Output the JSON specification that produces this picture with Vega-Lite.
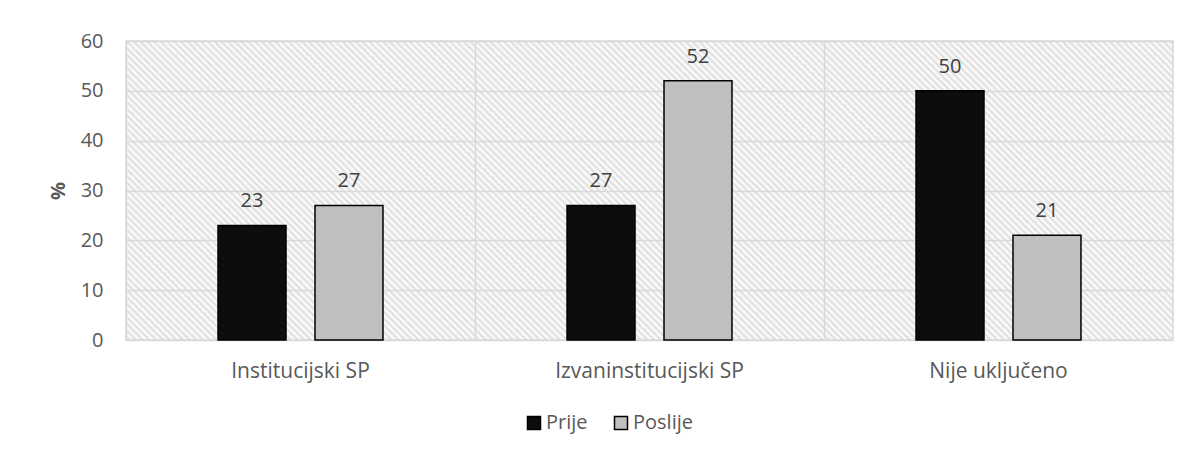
{
"$schema":"https://vega.github.io/schema/vega-lite/v6.json",
"width":1047,"height":299,
"autosize":{"type":"none"},
"padding":{"left":126,"top":41,"right":16,"bottom":114},
"background":"#ffffff",
"config":{"font":"Open Sans","axis":{"labelFont":"Open Sans","titleFont":"Open Sans"},"legend":{"labelFont":"Open Sans"}},
"view":{"stroke":"#d9d9d9","strokeWidth":1.5,"fill":{"gradient":"linear","x1":0,"y1":1,"x2":1.18866,"y2":0.66054,"stops":[
{"offset":0,"color":"#fff"},{"offset":0.0025,"color":"#ddd"},{"offset":0.005,"color":"#fff"},{"offset":0.0075,"color":"#ddd"},
{"offset":0.01,"color":"#fff"},{"offset":0.0125,"color":"#ddd"},{"offset":0.015,"color":"#fff"},{"offset":0.0175,"color":"#ddd"},
{"offset":0.02,"color":"#fff"},{"offset":0.0225,"color":"#ddd"},{"offset":0.025,"color":"#fff"},{"offset":0.0275,"color":"#ddd"},
{"offset":0.03,"color":"#fff"},{"offset":0.0325,"color":"#ddd"},{"offset":0.035,"color":"#fff"},{"offset":0.0375,"color":"#ddd"},
{"offset":0.04,"color":"#fff"},{"offset":0.0425,"color":"#ddd"},{"offset":0.045,"color":"#fff"},{"offset":0.0475,"color":"#ddd"},
{"offset":0.05,"color":"#fff"},{"offset":0.0525,"color":"#ddd"},{"offset":0.055,"color":"#fff"},{"offset":0.0575,"color":"#ddd"},
{"offset":0.06,"color":"#fff"},{"offset":0.0625,"color":"#ddd"},{"offset":0.065,"color":"#fff"},{"offset":0.0675,"color":"#ddd"},
{"offset":0.07,"color":"#fff"},{"offset":0.0725,"color":"#ddd"},{"offset":0.075,"color":"#fff"},{"offset":0.0775,"color":"#ddd"},
{"offset":0.08,"color":"#fff"},{"offset":0.0825,"color":"#ddd"},{"offset":0.085,"color":"#fff"},{"offset":0.0875,"color":"#ddd"},
{"offset":0.09,"color":"#fff"},{"offset":0.0925,"color":"#ddd"},{"offset":0.095,"color":"#fff"},{"offset":0.0975,"color":"#ddd"},
{"offset":0.1,"color":"#fff"},{"offset":0.1025,"color":"#ddd"},{"offset":0.105,"color":"#fff"},{"offset":0.1075,"color":"#ddd"},
{"offset":0.11,"color":"#fff"},{"offset":0.1125,"color":"#ddd"},{"offset":0.115,"color":"#fff"},{"offset":0.1175,"color":"#ddd"},
{"offset":0.12,"color":"#fff"},{"offset":0.1225,"color":"#ddd"},{"offset":0.125,"color":"#fff"},{"offset":0.1275,"color":"#ddd"},
{"offset":0.13,"color":"#fff"},{"offset":0.1325,"color":"#ddd"},{"offset":0.135,"color":"#fff"},{"offset":0.1375,"color":"#ddd"},
{"offset":0.14,"color":"#fff"},{"offset":0.1425,"color":"#ddd"},{"offset":0.145,"color":"#fff"},{"offset":0.1475,"color":"#ddd"},
{"offset":0.15,"color":"#fff"},{"offset":0.1525,"color":"#ddd"},{"offset":0.155,"color":"#fff"},{"offset":0.1575,"color":"#ddd"},
{"offset":0.16,"color":"#fff"},{"offset":0.1625,"color":"#ddd"},{"offset":0.165,"color":"#fff"},{"offset":0.1675,"color":"#ddd"},
{"offset":0.17,"color":"#fff"},{"offset":0.1725,"color":"#ddd"},{"offset":0.175,"color":"#fff"},{"offset":0.1775,"color":"#ddd"},
{"offset":0.18,"color":"#fff"},{"offset":0.1825,"color":"#ddd"},{"offset":0.185,"color":"#fff"},{"offset":0.1875,"color":"#ddd"},
{"offset":0.19,"color":"#fff"},{"offset":0.1925,"color":"#ddd"},{"offset":0.195,"color":"#fff"},{"offset":0.1975,"color":"#ddd"},
{"offset":0.2,"color":"#fff"},{"offset":0.2025,"color":"#ddd"},{"offset":0.205,"color":"#fff"},{"offset":0.2075,"color":"#ddd"},
{"offset":0.21,"color":"#fff"},{"offset":0.2125,"color":"#ddd"},{"offset":0.215,"color":"#fff"},{"offset":0.2175,"color":"#ddd"},
{"offset":0.22,"color":"#fff"},{"offset":0.2225,"color":"#ddd"},{"offset":0.225,"color":"#fff"},{"offset":0.2275,"color":"#ddd"},
{"offset":0.23,"color":"#fff"},{"offset":0.2325,"color":"#ddd"},{"offset":0.235,"color":"#fff"},{"offset":0.2375,"color":"#ddd"},
{"offset":0.24,"color":"#fff"},{"offset":0.2425,"color":"#ddd"},{"offset":0.245,"color":"#fff"},{"offset":0.2475,"color":"#ddd"},
{"offset":0.25,"color":"#fff"},{"offset":0.2525,"color":"#ddd"},{"offset":0.255,"color":"#fff"},{"offset":0.2575,"color":"#ddd"},
{"offset":0.26,"color":"#fff"},{"offset":0.2625,"color":"#ddd"},{"offset":0.265,"color":"#fff"},{"offset":0.2675,"color":"#ddd"},
{"offset":0.27,"color":"#fff"},{"offset":0.2725,"color":"#ddd"},{"offset":0.275,"color":"#fff"},{"offset":0.2775,"color":"#ddd"},
{"offset":0.28,"color":"#fff"},{"offset":0.2825,"color":"#ddd"},{"offset":0.285,"color":"#fff"},{"offset":0.2875,"color":"#ddd"},
{"offset":0.29,"color":"#fff"},{"offset":0.2925,"color":"#ddd"},{"offset":0.295,"color":"#fff"},{"offset":0.2975,"color":"#ddd"},
{"offset":0.3,"color":"#fff"},{"offset":0.3025,"color":"#ddd"},{"offset":0.305,"color":"#fff"},{"offset":0.3075,"color":"#ddd"},
{"offset":0.31,"color":"#fff"},{"offset":0.3125,"color":"#ddd"},{"offset":0.315,"color":"#fff"},{"offset":0.3175,"color":"#ddd"},
{"offset":0.32,"color":"#fff"},{"offset":0.3225,"color":"#ddd"},{"offset":0.325,"color":"#fff"},{"offset":0.3275,"color":"#ddd"},
{"offset":0.33,"color":"#fff"},{"offset":0.3325,"color":"#ddd"},{"offset":0.335,"color":"#fff"},{"offset":0.3375,"color":"#ddd"},
{"offset":0.34,"color":"#fff"},{"offset":0.3425,"color":"#ddd"},{"offset":0.345,"color":"#fff"},{"offset":0.3475,"color":"#ddd"},
{"offset":0.35,"color":"#fff"},{"offset":0.3525,"color":"#ddd"},{"offset":0.355,"color":"#fff"},{"offset":0.3575,"color":"#ddd"},
{"offset":0.36,"color":"#fff"},{"offset":0.3625,"color":"#ddd"},{"offset":0.365,"color":"#fff"},{"offset":0.3675,"color":"#ddd"},
{"offset":0.37,"color":"#fff"},{"offset":0.3725,"color":"#ddd"},{"offset":0.375,"color":"#fff"},{"offset":0.3775,"color":"#ddd"},
{"offset":0.38,"color":"#fff"},{"offset":0.3825,"color":"#ddd"},{"offset":0.385,"color":"#fff"},{"offset":0.3875,"color":"#ddd"},
{"offset":0.39,"color":"#fff"},{"offset":0.3925,"color":"#ddd"},{"offset":0.395,"color":"#fff"},{"offset":0.3975,"color":"#ddd"},
{"offset":0.4,"color":"#fff"},{"offset":0.4025,"color":"#ddd"},{"offset":0.405,"color":"#fff"},{"offset":0.4075,"color":"#ddd"},
{"offset":0.41,"color":"#fff"},{"offset":0.4125,"color":"#ddd"},{"offset":0.415,"color":"#fff"},{"offset":0.4175,"color":"#ddd"},
{"offset":0.42,"color":"#fff"},{"offset":0.4225,"color":"#ddd"},{"offset":0.425,"color":"#fff"},{"offset":0.4275,"color":"#ddd"},
{"offset":0.43,"color":"#fff"},{"offset":0.4325,"color":"#ddd"},{"offset":0.435,"color":"#fff"},{"offset":0.4375,"color":"#ddd"},
{"offset":0.44,"color":"#fff"},{"offset":0.4425,"color":"#ddd"},{"offset":0.445,"color":"#fff"},{"offset":0.4475,"color":"#ddd"},
{"offset":0.45,"color":"#fff"},{"offset":0.4525,"color":"#ddd"},{"offset":0.455,"color":"#fff"},{"offset":0.4575,"color":"#ddd"},
{"offset":0.46,"color":"#fff"},{"offset":0.4625,"color":"#ddd"},{"offset":0.465,"color":"#fff"},{"offset":0.4675,"color":"#ddd"},
{"offset":0.47,"color":"#fff"},{"offset":0.4725,"color":"#ddd"},{"offset":0.475,"color":"#fff"},{"offset":0.4775,"color":"#ddd"},
{"offset":0.48,"color":"#fff"},{"offset":0.4825,"color":"#ddd"},{"offset":0.485,"color":"#fff"},{"offset":0.4875,"color":"#ddd"},
{"offset":0.49,"color":"#fff"},{"offset":0.4925,"color":"#ddd"},{"offset":0.495,"color":"#fff"},{"offset":0.4975,"color":"#ddd"},
{"offset":0.5,"color":"#fff"},{"offset":0.5025,"color":"#ddd"},{"offset":0.505,"color":"#fff"},{"offset":0.5075,"color":"#ddd"},
{"offset":0.51,"color":"#fff"},{"offset":0.5125,"color":"#ddd"},{"offset":0.515,"color":"#fff"},{"offset":0.5175,"color":"#ddd"},
{"offset":0.52,"color":"#fff"},{"offset":0.5225,"color":"#ddd"},{"offset":0.525,"color":"#fff"},{"offset":0.5275,"color":"#ddd"},
{"offset":0.53,"color":"#fff"},{"offset":0.5325,"color":"#ddd"},{"offset":0.535,"color":"#fff"},{"offset":0.5375,"color":"#ddd"},
{"offset":0.54,"color":"#fff"},{"offset":0.5425,"color":"#ddd"},{"offset":0.545,"color":"#fff"},{"offset":0.5475,"color":"#ddd"},
{"offset":0.55,"color":"#fff"},{"offset":0.5525,"color":"#ddd"},{"offset":0.555,"color":"#fff"},{"offset":0.5575,"color":"#ddd"},
{"offset":0.56,"color":"#fff"},{"offset":0.5625,"color":"#ddd"},{"offset":0.565,"color":"#fff"},{"offset":0.5675,"color":"#ddd"},
{"offset":0.57,"color":"#fff"},{"offset":0.5725,"color":"#ddd"},{"offset":0.575,"color":"#fff"},{"offset":0.5775,"color":"#ddd"},
{"offset":0.58,"color":"#fff"},{"offset":0.5825,"color":"#ddd"},{"offset":0.585,"color":"#fff"},{"offset":0.5875,"color":"#ddd"},
{"offset":0.59,"color":"#fff"},{"offset":0.5925,"color":"#ddd"},{"offset":0.595,"color":"#fff"},{"offset":0.5975,"color":"#ddd"},
{"offset":0.6,"color":"#fff"},{"offset":0.6025,"color":"#ddd"},{"offset":0.605,"color":"#fff"},{"offset":0.6075,"color":"#ddd"},
{"offset":0.61,"color":"#fff"},{"offset":0.6125,"color":"#ddd"},{"offset":0.615,"color":"#fff"},{"offset":0.6175,"color":"#ddd"},
{"offset":0.62,"color":"#fff"},{"offset":0.6225,"color":"#ddd"},{"offset":0.625,"color":"#fff"},{"offset":0.6275,"color":"#ddd"},
{"offset":0.63,"color":"#fff"},{"offset":0.6325,"color":"#ddd"},{"offset":0.635,"color":"#fff"},{"offset":0.6375,"color":"#ddd"},
{"offset":0.64,"color":"#fff"},{"offset":0.6425,"color":"#ddd"},{"offset":0.645,"color":"#fff"},{"offset":0.6475,"color":"#ddd"},
{"offset":0.65,"color":"#fff"},{"offset":0.6525,"color":"#ddd"},{"offset":0.655,"color":"#fff"},{"offset":0.6575,"color":"#ddd"},
{"offset":0.66,"color":"#fff"},{"offset":0.6625,"color":"#ddd"},{"offset":0.665,"color":"#fff"},{"offset":0.6675,"color":"#ddd"},
{"offset":0.67,"color":"#fff"},{"offset":0.6725,"color":"#ddd"},{"offset":0.675,"color":"#fff"},{"offset":0.6775,"color":"#ddd"},
{"offset":0.68,"color":"#fff"},{"offset":0.6825,"color":"#ddd"},{"offset":0.685,"color":"#fff"},{"offset":0.6875,"color":"#ddd"},
{"offset":0.69,"color":"#fff"},{"offset":0.6925,"color":"#ddd"},{"offset":0.695,"color":"#fff"},{"offset":0.6975,"color":"#ddd"},
{"offset":0.7,"color":"#fff"},{"offset":0.7025,"color":"#ddd"},{"offset":0.705,"color":"#fff"},{"offset":0.7075,"color":"#ddd"},
{"offset":0.71,"color":"#fff"},{"offset":0.7125,"color":"#ddd"},{"offset":0.715,"color":"#fff"},{"offset":0.7175,"color":"#ddd"},
{"offset":0.72,"color":"#fff"},{"offset":0.7225,"color":"#ddd"},{"offset":0.725,"color":"#fff"},{"offset":0.7275,"color":"#ddd"},
{"offset":0.73,"color":"#fff"},{"offset":0.7325,"color":"#ddd"},{"offset":0.735,"color":"#fff"},{"offset":0.7375,"color":"#ddd"},
{"offset":0.74,"color":"#fff"},{"offset":0.7425,"color":"#ddd"},{"offset":0.745,"color":"#fff"},{"offset":0.7475,"color":"#ddd"},
{"offset":0.75,"color":"#fff"},{"offset":0.7525,"color":"#ddd"},{"offset":0.755,"color":"#fff"},{"offset":0.7575,"color":"#ddd"},
{"offset":0.76,"color":"#fff"},{"offset":0.7625,"color":"#ddd"},{"offset":0.765,"color":"#fff"},{"offset":0.7675,"color":"#ddd"},
{"offset":0.77,"color":"#fff"},{"offset":0.7725,"color":"#ddd"},{"offset":0.775,"color":"#fff"},{"offset":0.7775,"color":"#ddd"},
{"offset":0.78,"color":"#fff"},{"offset":0.7825,"color":"#ddd"},{"offset":0.785,"color":"#fff"},{"offset":0.7875,"color":"#ddd"},
{"offset":0.79,"color":"#fff"},{"offset":0.7925,"color":"#ddd"},{"offset":0.795,"color":"#fff"},{"offset":0.7975,"color":"#ddd"},
{"offset":0.8,"color":"#fff"},{"offset":0.8025,"color":"#ddd"},{"offset":0.805,"color":"#fff"},{"offset":0.8075,"color":"#ddd"},
{"offset":0.81,"color":"#fff"},{"offset":0.8125,"color":"#ddd"},{"offset":0.815,"color":"#fff"},{"offset":0.8175,"color":"#ddd"},
{"offset":0.82,"color":"#fff"},{"offset":0.8225,"color":"#ddd"},{"offset":0.825,"color":"#fff"},{"offset":0.8275,"color":"#ddd"},
{"offset":0.83,"color":"#fff"},{"offset":0.8325,"color":"#ddd"},{"offset":0.835,"color":"#fff"},{"offset":0.8375,"color":"#ddd"},
{"offset":0.84,"color":"#fff"},{"offset":0.8425,"color":"#ddd"},{"offset":0.845,"color":"#fff"},{"offset":0.8475,"color":"#ddd"},
{"offset":0.85,"color":"#fff"},{"offset":0.8525,"color":"#ddd"},{"offset":0.855,"color":"#fff"},{"offset":0.8575,"color":"#ddd"},
{"offset":0.86,"color":"#fff"},{"offset":0.8625,"color":"#ddd"},{"offset":0.865,"color":"#fff"},{"offset":0.8675,"color":"#ddd"},
{"offset":0.87,"color":"#fff"},{"offset":0.8725,"color":"#ddd"},{"offset":0.875,"color":"#fff"},{"offset":0.8775,"color":"#ddd"},
{"offset":0.88,"color":"#fff"},{"offset":0.8825,"color":"#ddd"},{"offset":0.885,"color":"#fff"},{"offset":0.8875,"color":"#ddd"},
{"offset":0.89,"color":"#fff"},{"offset":0.8925,"color":"#ddd"},{"offset":0.895,"color":"#fff"},{"offset":0.8975,"color":"#ddd"},
{"offset":0.9,"color":"#fff"},{"offset":0.9025,"color":"#ddd"},{"offset":0.905,"color":"#fff"},{"offset":0.9075,"color":"#ddd"},
{"offset":0.91,"color":"#fff"},{"offset":0.9125,"color":"#ddd"},{"offset":0.915,"color":"#fff"},{"offset":0.9175,"color":"#ddd"},
{"offset":0.92,"color":"#fff"},{"offset":0.9225,"color":"#ddd"},{"offset":0.925,"color":"#fff"},{"offset":0.9275,"color":"#ddd"},
{"offset":0.93,"color":"#fff"},{"offset":0.9325,"color":"#ddd"},{"offset":0.935,"color":"#fff"},{"offset":0.9375,"color":"#ddd"},
{"offset":0.94,"color":"#fff"},{"offset":0.9425,"color":"#ddd"},{"offset":0.945,"color":"#fff"},{"offset":0.9475,"color":"#ddd"},
{"offset":0.95,"color":"#fff"},{"offset":0.9525,"color":"#ddd"},{"offset":0.955,"color":"#fff"},{"offset":0.9575,"color":"#ddd"},
{"offset":0.96,"color":"#fff"},{"offset":0.9625,"color":"#ddd"},{"offset":0.965,"color":"#fff"},{"offset":0.9675,"color":"#ddd"},
{"offset":0.97,"color":"#fff"},{"offset":0.9725,"color":"#ddd"},{"offset":0.975,"color":"#fff"},{"offset":0.9775,"color":"#ddd"},
{"offset":0.98,"color":"#fff"},{"offset":0.9825,"color":"#ddd"},{"offset":0.985,"color":"#fff"},{"offset":0.9875,"color":"#ddd"},
{"offset":0.99,"color":"#fff"},{"offset":0.9925,"color":"#ddd"},{"offset":0.995,"color":"#fff"},{"offset":0.9975,"color":"#ddd"},
{"offset":1,"color":"#fff"}]}},
"data":{"values":[
{"kategorija":"Institucijski SP","serija":"Prije","postotak":23},
{"kategorija":"Institucijski SP","serija":"Poslije","postotak":27},
{"kategorija":"Izvaninstitucijski SP","serija":"Prije","postotak":27},
{"kategorija":"Izvaninstitucijski SP","serija":"Poslije","postotak":52},
{"kategorija":"Nije uključeno","serija":"Prije","postotak":50},
{"kategorija":"Nije uključeno","serija":"Poslije","postotak":21}
]},
"encoding":{
"x":{"field":"kategorija","type":"nominal","sort":["Institucijski SP","Izvaninstitucijski SP","Nije uključeno"],
 "scale":{"paddingInner":0,"paddingOuter":0},
 "axis":{"title":null,"labelAngle":0,"labelFontSize":21,"labelLimit":500,"labelColor":"#595959","labelPadding":20,"ticks":false,"tickSize":0,"domain":false,"grid":false,"bandPosition":0.5}},
"xOffset":{"field":"serija","type":"nominal","sort":["Prije","Poslije"],"scale":{"paddingInner":0.299,"paddingOuter":0.949}},
"y":{"field":"postotak","type":"quantitative","scale":{"domain":[0,60]},
 "axis":{"title":"%","values":[0,10,20,30,40,50,60],"labelFontSize":20,"labelColor":"#595959","labelPadding":23,"ticks":false,"tickSize":0,"domain":false,"grid":true,"gridColor":"#d9d9d9","gridWidth":1.5,"titleFontSize":20,"titleColor":"#595959","titleFontWeight":"bold","titlePadding":12}}
},
"layer":[
{"mark":{"type":"bar","stroke":"#000000","strokeWidth":1.5},
 "encoding":{"color":{"field":"serija","type":"nominal","sort":["Prije","Poslije"],
  "scale":{"domain":["Prije","Poslije"],"range":["#0d0d0d","#bfbfbf"]},
  "legend":{"title":null,"orient":"none","legendX":398,"legendY":372,"direction":"horizontal","symbolType":"square","symbolSize":169,"symbolStrokeColor":"#000000","symbolStrokeWidth":1.5,"labelFontSize":20,"labelColor":"#595959","labelOffset":2,"columnPadding":23}}}},
{"mark":{"type":"text","fontSize":20,"color":"#404040","baseline":"alphabetic","dy":-18},
 "encoding":{"text":{"field":"postotak","type":"quantitative"},
  "x":{"field":"kategorija","type":"nominal","sort":["Institucijski SP","Izvaninstitucijski SP","Nije uključeno"],
   "axis":{"orient":"top","title":null,"labels":false,"ticks":false,"domain":false,"grid":true,"gridColor":"#d9d9d9","gridWidth":1.5,"bandPosition":0}}}}
],
"resolve":{"axis":{"x":"independent"}}
}
